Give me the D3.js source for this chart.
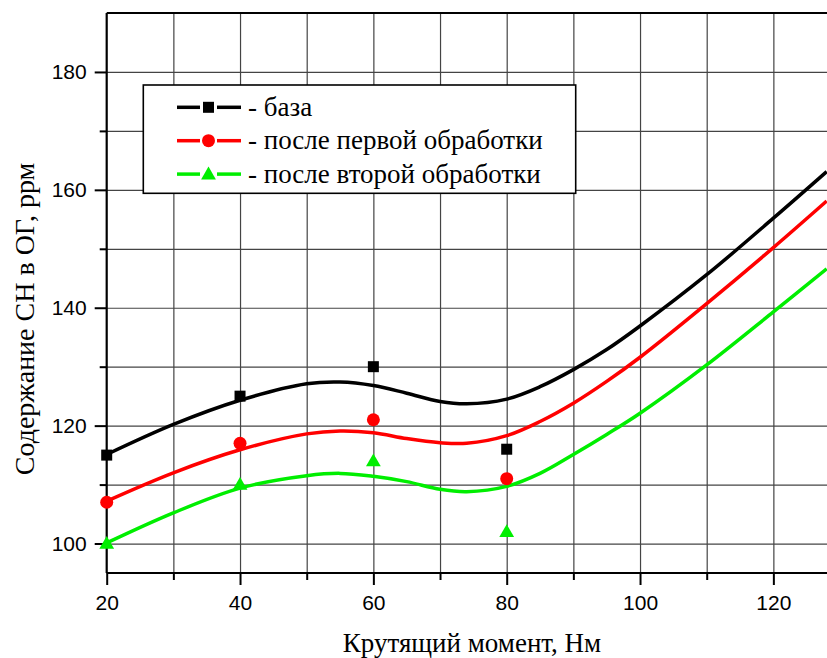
<!DOCTYPE html>
<html>
<head>
<meta charset="utf-8">
<script src="https://cdn.jsdelivr.net/npm/d3@7"></script>
<style>
  body { margin: 0; background: #fff; }
  svg { display: block; }
</style>
</head>
<body>
<svg id="chart" width="827" height="658"></svg>
<script>
// measured points
var torque = [20, 40, 60, 80];
var baseVals = [115, 125, 130, 116];
var firstVals = [107, 117, 121, 111];
var secondVals = [100, 110, 114, 102];

// fitted curves
var fitX = [20, 30, 40, 50, 55, 60, 65, 70, 74, 80, 85, 90, 95, 100, 110, 120, 128];
var baseFit = [115.1, 120.2, 124.3, 127.1, 127.4, 126.8, 125.5, 124.1, 123.7, 124.5, 126.6, 129.5, 132.9, 136.9, 145.6, 155.2, 163.1];
var firstFit = [107.2, 112.0, 115.9, 118.6, 119.1, 118.8, 117.8, 117.1, 117.0, 118.3, 120.7, 123.8, 127.5, 131.6, 140.7, 150.2, 158.1];
var secondFit = [100.1, 105.2, 109.4, 111.5, 111.9, 111.4, 110.5, 109.2, 108.8, 109.7, 111.9, 115.1, 118.5, 122.1, 130.3, 139.3, 146.6];

var xTicks = [20, 40, 60, 80, 100, 120];
var yTicks = [100, 120, 140, 160, 180];
var legendNames = ["- база", "- после первой обработки", "- после второй обработки"];

var svg = d3.select("#chart");
var pLeft = 106.7, pRight = 826.7, pTop = 13, pBottom = 573;

var x = d3.scaleLinear().domain([20, 128]).range([pLeft, pRight]);
var y = d3.scaleLinear().domain([95, 190]).range([pBottom, pTop]);

var series = [
    { name: legendNames[0], color: "#000000", shape: "square", pts: baseVals, fit: baseFit },
    { name: legendNames[1], color: "#ff0000", shape: "circle", pts: firstVals, fit: firstFit },
    { name: legendNames[2], color: "#00ee00", shape: "triangle", pts: secondVals, fit: secondFit }
];

// grid
svg.append("g")
    .attr("transform", "translate(0," + pBottom + ")")
    .call(d3.axisBottom(x).tickValues(d3.range(30, 121, 10)).tickSize(-(pBottom - pTop)).tickFormat(""))
    .call(function (g) { g.select(".domain").remove(); })
    .selectAll("line").attr("stroke", "#444").attr("stroke-width", 1.2);
svg.append("g")
    .attr("transform", "translate(" + pLeft + ",0)")
    .call(d3.axisLeft(y).tickValues(d3.range(100, 181, 10)).tickSize(-(pRight - pLeft + 2)).tickFormat(""))
    .call(function (g) { g.select(".domain").remove(); })
    .selectAll("line").attr("stroke", "#444").attr("stroke-width", 1.2);

// minor ticks
svg.append("g")
    .attr("transform", "translate(0," + pBottom + ")")
    .call(d3.axisBottom(x).tickValues([30, 50, 70, 90, 110]).tickSize(7).tickFormat(""))
    .call(function (g) { g.select(".domain").remove(); })
    .selectAll("line").attr("stroke", "#000").attr("stroke-width", 2);
svg.append("g")
    .attr("transform", "translate(" + pLeft + ",0)")
    .call(d3.axisLeft(y).tickValues([110, 130, 150, 170]).tickSize(7).tickFormat(""))
    .call(function (g) { g.select(".domain").remove(); })
    .selectAll("line").attr("stroke", "#000").attr("stroke-width", 2);

// main axes
var xAxis = svg.append("g")
    .attr("transform", "translate(0," + pBottom + ")")
    .call(d3.axisBottom(x).tickValues(xTicks).tickSize(12).tickPadding(10).tickSizeOuter(0));
var yAxis = svg.append("g")
    .attr("transform", "translate(" + pLeft + ",0)")
    .call(d3.axisLeft(y).tickValues(yTicks).tickSize(12).tickPadding(8).tickSizeOuter(0));
[xAxis, yAxis].forEach(function (g) {
    g.select(".domain").attr("stroke-width", 2.2);
    g.selectAll("line").attr("stroke-width", 2);
    g.selectAll("text").attr("font-family", "Liberation Sans, Arial, sans-serif")
        .attr("font-size", 21).attr("fill", "#000");
});
yAxis.select(".domain").attr("d", "M0," + pBottom + "V" + pTop);
xAxis.select(".domain").attr("d", "M" + pLeft + ",0H" + (pRight + 1));

// top border
svg.append("line")
    .attr("x1", pLeft).attr("x2", 827).attr("y1", pTop).attr("y2", pTop)
    .attr("stroke", "#000").attr("stroke-width", 2.2);

// curves
svg.append("clipPath").attr("id", "plotclip")
    .append("rect").attr("x", pLeft).attr("y", pTop).attr("width", pRight - pLeft + 1).attr("height", pBottom - pTop);

var line = d3.line()
    .x(function (d) { return x(d[0]); })
    .y(function (d) { return y(d[1]); })
    .curve(d3.curveCatmullRom.alpha(0.5));

var plot = svg.append("g").attr("clip-path", "url(#plotclip)");
series.forEach(function (s) {
    plot.append("path")
        .attr("d", line(d3.zip(fitX, s.fit)))
        .attr("fill", "none")
        .attr("stroke", s.color)
        .attr("stroke-width", 3.5);
});

function marker(g, shape, color, cx, cy) {
    if (shape == "square")
        g.append("rect").attr("x", cx - 5.5).attr("y", cy - 5.5).attr("width", 11).attr("height", 11).attr("fill", color);
    else if (shape == "circle")
        g.append("circle").attr("cx", cx).attr("cy", cy).attr("r", 6.5).attr("fill", color);
    else
        g.append("path").attr("d", d3.symbol().type(d3.symbolTriangle).size(95)()).attr("transform", "translate(" + cx + "," + (cy + 1) + ")").attr("fill", color);
}

var markers = svg.append("g");
series.forEach(function (s) {
    s.pts.forEach(function (v, i) {
        marker(markers, s.shape, s.color, x(torque[i]), y(v));
    });
});

// legend
var legend = svg.append("g");
legend.append("rect")
    .attr("x", 143.3).attr("y", 85).attr("width", 432.4).attr("height", 108.3)
    .attr("fill", "#fff").attr("stroke", "#000").attr("stroke-width", 1.6);
series.forEach(function (s, i) {
    var ry = 107.3 + i * 33.4;
    var row = legend.append("g");
    row.append("line").attr("x1", 177).attr("x2", 200).attr("y1", ry).attr("y2", ry)
        .attr("stroke", s.color).attr("stroke-width", 3.5);
    row.append("line").attr("x1", 217).attr("x2", 241).attr("y1", ry).attr("y2", ry)
        .attr("stroke", s.color).attr("stroke-width", 3.5);
    marker(row, s.shape, s.color, 208.5, ry);
    row.append("text")
        .attr("x", 248).attr("y", ry + 8.6)
        .attr("font-family", "Liberation Serif, Times New Roman, serif")
        .attr("font-size", 27)
        .text(s.name);
});

// axis titles
svg.append("text")
    .attr("x", 472).attr("y", 652)
    .attr("text-anchor", "middle")
    .attr("font-family", "Liberation Serif, Times New Roman, serif")
    .attr("font-size", 27)
    .text("Крутящий момент, Нм");
svg.append("text")
    .attr("transform", "translate(34,319) rotate(-90)")
    .attr("text-anchor", "middle")
    .attr("font-family", "Liberation Serif, Times New Roman, serif")
    .attr("font-size", 28)
    .text("Содержание СН в ОГ, ррм");
</script>
</body>
</html>
